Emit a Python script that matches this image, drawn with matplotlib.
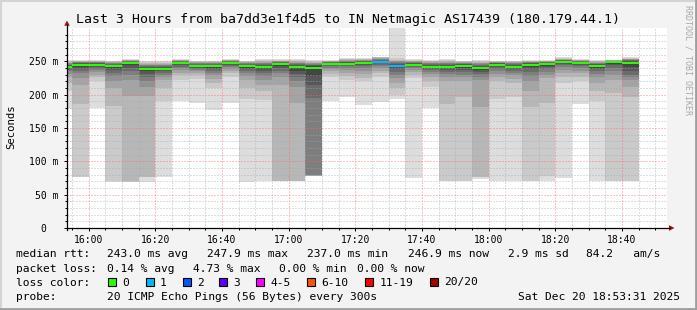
import matplotlib
matplotlib.use("Agg")
import matplotlib.pyplot as plt
from matplotlib.patches import Rectangle, Polygon
from matplotlib.lines import Line2D
import numpy as np

# ---------------- data ----------------
title = "Last 3 Hours from ba7dd3e1f4d5 to IN Netmagic AS17439 (180.179.44.1)"
x_start = "15:53:31"
x_end = "18:53:31"
x_tick_labels = ["16:00", "16:20", "16:40", "17:00", "17:20", "17:40", "18:00", "18:20", "18:40"]
y_ticks = [0, 50, 100, 150, 200, 250]
y_tick_labels = ["0  ", "50 m", "100 m", "150 m", "200 m", "250 m"]

step_end = ["15:55", "16:00", "16:05", "16:10", "16:15", "16:20", "16:25", "16:30", "16:35",
            "16:40", "16:45", "16:50", "16:55", "17:00", "17:05", "17:10", "17:15", "17:20",
            "17:25", "17:30", "17:35", "17:40", "17:45", "17:50", "17:55", "18:00", "18:05",
            "18:10", "18:15", "18:20", "18:25", "18:30", "18:35", "18:40", "18:45"]

# 20 sorted ping RTTs (ms) per 5-minute step
pings_by_step = [
    [178, 205, 218, 226, 231, 235, 237, 239, 240, 241, 242, 243, 244, 245, 246, 247, 248, 249, 250, 252],
    [76, 77, 186, 215, 225, 232, 236, 239, 242, 244.5, 245.5, 246.5, 247, 248, 248.5, 249, 249.5, 250, 251, 252],
    [180, 220, 226, 230, 234, 237, 239, 241, 243, 244.5, 245.5, 246.5, 247, 248, 248.5, 249, 249.5, 250, 251, 252],
    [69, 70, 183, 210, 220, 228, 233, 237, 240, 242, 243.2, 244, 245, 246, 247, 248, 249, 249.5, 250, 251],
    [69, 69.5, 70, 198, 222, 230, 236, 240, 244, 247, 248.2, 249, 249.5, 250, 250.5, 251, 251.5, 252, 252.5, 253],
    [69, 76, 76.5, 198, 212, 220, 226, 231, 235, 238, 239.2, 240.5, 242, 243, 244, 245, 246, 247.5, 249, 251],
    [76, 190, 210, 222, 226, 230, 233, 235, 237, 238, 239.2, 240.5, 242, 243, 244, 245, 246, 247, 248.5, 250],
    [191, 222, 229, 233, 237, 240, 242, 244, 246, 247, 248.2, 249, 249.5, 250, 250.5, 251, 251.5, 252, 252.5, 253],
    [187, 224, 229, 232, 235, 237, 239, 240.5, 241.5, 242, 243.2, 244, 245, 246, 247, 248, 248.5, 249, 250, 251],
    [177, 210, 218, 224, 229, 233, 236, 238.5, 240.5, 242, 243.2, 244, 245, 246, 247, 248, 248.5, 249, 250, 251],
    [187, 227, 232, 236, 239, 241, 243, 245, 246, 247, 248.2, 249, 249.5, 250, 250.5, 251, 251.5, 252, 252.5, 253],
    [69, 194, 210, 222, 228, 232, 235, 238, 240.5, 242, 243.2, 244, 245, 246, 247, 248, 248.5, 249, 250, 251],
    [70, 192, 205, 215, 222, 228, 232, 236, 239, 241, 242.2, 243.5, 245, 246, 247, 248, 249, 250, 251.5, 253],
    [70, 70.5, 71, 215, 226, 232, 236, 240, 243, 245.5, 246.5, 247.5, 248, 249, 249.5, 250, 250.5, 251, 252, 253],
    [70, 70.5, 71, 187, 212, 220, 226, 231, 236, 241, 242.2, 243.5, 245, 246, 247, 248, 249, 250, 251.5, 253],
    [78, 78.2, 78.4, 78.6, 78.8, 79, 195, 215, 228, 239, 241, 242.5, 244, 245, 246, 247, 248, 249, 250.5, 252],
    [191, 226, 231, 235, 238, 240.5, 242.5, 244, 245, 245.5, 246.5, 247.5, 248, 248.5, 249, 249.5, 250, 250.5, 251, 252],
    [197, 222, 228, 233, 237, 240, 242.5, 244, 245, 245.5, 246.5, 247.5, 248.5, 249.5, 250, 251, 252, 253, 254, 255],
    [185, 220, 225, 231, 236, 240, 243, 245, 246.5, 247, 248.2, 249, 250, 250.5, 251, 251.5, 252, 253, 254, 255],
    [189, 227, 232, 236, 240, 243, 245, 247, 248, 248.5, 249.5, 250.5, 251, 252, 253, 254, 255, 256, 256.5, 257],
    [193, 200, 210, 218, 225, 230, 234, 238, 241, 242.5, 243.5, 245, 246.5, 248, 249, 250, 251, 252, 254.5, 320],
    [75, 225, 230, 234, 237, 239.5, 241.5, 243, 244, 244.5, 245, 246, 247, 248, 248.5, 249, 250, 251, 252, 253],
    [180, 212, 220, 226, 231, 234, 237, 239, 240.5, 241, 242.2, 243.5, 245, 246, 247, 248, 249, 250, 251, 252],
    [70, 70.5, 186, 220, 227, 231, 234, 237, 239.5, 241, 242.2, 243.5, 245, 246, 247, 248, 249, 250, 251.5, 253],
    [70, 70.5, 197, 220, 226, 230, 234, 237, 240, 242.5, 243.5, 244.5, 245.5, 246.5, 247, 248, 248.5, 249, 250, 251],
    [73, 76, 76.5, 181, 222, 227, 231, 234, 237, 239.5, 240.5, 242, 243.5, 245, 246, 247, 248, 249, 250.5, 252],
    [70, 194, 220, 226, 231, 235, 238, 241, 243, 244.5, 245, 246, 247, 247.5, 248, 248.5, 249, 249.5, 250, 251],
    [70, 197, 217, 224, 229, 233, 236, 238.5, 240.5, 241, 242.2, 243.5, 245, 246, 247, 248, 248.5, 249, 250, 251],
    [70, 70.5, 181, 205, 220, 228, 234, 238, 241.5, 244, 245.4, 246.5, 247.5, 248, 248.5, 249, 249.5, 250, 251, 252],
    [70, 78, 187, 225, 230, 234, 238, 241, 243.5, 245.5, 246.5, 247.5, 248, 248.5, 249, 249.5, 250, 250.5, 251, 252],
    [75, 217, 226, 232, 237, 241, 244, 246, 247.5, 248.5, 249.5, 250.5, 251, 251.5, 252, 252.5, 253, 254, 255, 256],
    [186, 220, 227, 232, 236, 240, 243, 245, 246.5, 247, 248.2, 249, 249.5, 250, 250.5, 251, 251.5, 252, 252.5, 253],
    [70, 190, 205, 218, 226, 231, 235, 238, 240.5, 242.5, 243.5, 244.5, 245.5, 246.5, 247.5, 248, 249, 250, 251, 252],
    [70, 70.5, 202, 222, 230, 236, 240, 244, 246.5, 248.5, 249.5, 249.8, 250, 250.3, 250.6, 251, 251.3, 251.6, 251.8, 252],
    [70, 70.5, 197, 212, 222, 226, 230, 236, 242, 246.5, 248.7, 250, 251, 252, 252.5, 253, 253.5, 254, 255, 256],
]

median_rtt = [241.6, 245, 245, 242.6, 247.6, 238.6, 238.6, 247.6, 242.6, 242.6, 247.6, 242.6,
              241.6, 246, 241.6, 240, 246, 246, 247.6, 249, 243, 244.7, 241.6, 241.6,
              243, 240, 244.7, 241.6, 244.7, 246, 249, 247.6, 243, 249, 247.6]

loss_count = [0, 0, 0, 0, 0, 0, 0, 0, 0, 0, 0, 0, 0, 0, 0, 0, 0, 0, 0, 1, 1, 0, 0, 0,
              0, 0, 0, 0, 0, 0, 0, 0, 0, 0, 0]

loss_labels = ["0", "1", "2", "3", "4-5", "6-10", "11-19", "20/20"]
loss_colors = ["#26ff00", "#00b8ff", "#0059ff", "#5e00ff", "#ff00ff", "#ff5500", "#ff0000", "#a00000"]
loss_lower = [0, 1, 2, 3, 4, 6, 11, 20]

rtt_stats = ["243.0 ms avg", "247.9 ms max", "237.0 ms min", "246.9 ms now", "2.9 ms sd", "84.2   am/s"]
loss_stats = ["0.14 % avg", "4.73 % max", "0.00 % min", "0.00 % now"]
probe_text = "20 ICMP Echo Pings (56 Bytes) every 300s"
stamp_text = "Sat Dec 20 18:53:31 2025"
watermark = "RRDTOOL / TOBI OETIKER"
y_max = 300
step_min = 5
# --------------------------------------

MONO = "DejaVu Sans Mono"
plt.rcParams["font.family"] = MONO

W, H = 697, 310
fig = plt.figure(figsize=(W / 100, H / 100), dpi=100)
fig.patch.set_facecolor("#f3f3f3")


def to_min(s):
    parts = [int(v) for v in s.split(":")]
    while len(parts) < 3:
        parts.append(0)
    return parts[0] * 60 + parts[1] + parts[2] / 60.0 - 16 * 60


# plot canvas (pixel layout of the original)
L, R, T, B = 67, 667, 28, 228
ax = fig.add_axes([L / W, (H - B) / H, (R - L) / W, (B - T) / H])
ax.set_facecolor("white")
ax.set_xlim(to_min(x_start), to_min(x_end))
ax.set_ylim(0, y_max)
for s in ax.spines.values():
    s.set_visible(False)

pings = np.clip(np.array(pings_by_step, dtype=float), None, y_max)
ends = np.array([to_min(t) for t in step_end])
lefts = ends - step_min
n = pings.shape[1]
half = n // 2

# smoke bands
for ii in range(1, half + 1):
    g = int(190 / half * (half - ii)) + 50
    col = "#%02x%02x%02x" % (g, g, g)
    lo = pings[:, ii - 1]
    hi = pings[:, n - ii]
    ax.bar(lefts, hi - lo, bottom=lo, width=step_min, align="edge", color=col,
           linewidth=0, antialiased=False, zorder=2)

# grid (drawn above smoke, like rrdtool)
minor_y = [v for v in range(10, y_max, 10) if v % 50 != 0]
major_y = [v for v in range(50, y_max, 50)]
xmin, xmax = ax.get_xlim()
minor_x = [v for v in np.arange(-5, xmax, 5) if v % 20 != 0]
major_x = list(range(0, int(xmax), 20))
for v in minor_y:
    ax.axhline(v, color="#a8a8a8", lw=0.72, ls=(0, (1, 2)), alpha=0.75, zorder=3)
for v in minor_x:
    ax.axvline(v, color="#a8a8a8", lw=0.72, ls=(0, (1, 2)), alpha=0.75, zorder=3)
for v in major_y:
    ax.axhline(v, color="#ff6666", lw=0.72, ls=(0, (1, 2)), alpha=0.8, zorder=3)
for v in major_x:
    ax.axvline(v, color="#ff6666", lw=0.72, ls=(0, (1, 2)), alpha=0.8, zorder=3)


def loss_col(c):
    idx = 0
    for k, lo in enumerate(loss_lower):
        if c >= lo:
            idx = k
    return loss_colors[idx]


med = np.array(median_rtt)
ax.bar(lefts, 3.0, bottom=med - 1.5, width=step_min, align="edge",
       color=[loss_col(c) for c in loss_count], linewidth=0, antialiased=False, zorder=5)

# ticks
ax.set_xticks(major_x)
ax.set_xticklabels(x_tick_labels)
ax.set_xticks(minor_x, minor=True)
ax.set_yticks(y_ticks)
ax.set_yticklabels(y_tick_labels)
ax.set_yticks([v for v in range(10, y_max, 10)], minor=True)
ax.tick_params(axis="both", which="major", length=2.2, width=0.72, color="#000000",
               labelsize=7, labelcolor="#000000")
ax.tick_params(axis="both", which="minor", length=1.4, width=0.72, color="#000000")
ax.tick_params(axis="y", which="major", pad=4)
ax.tick_params(axis="x", which="major", pad=2.5)

# overlay for frame, axes arrows, texts
ov = fig.add_axes([0, 0, 1, 1], zorder=10)
ov.set_xlim(0, W)
ov.set_ylim(H, 0)
ov.axis("off")
ov.patch.set_alpha(0)

# 3D frame
ov.add_line(Line2D([0, W], [0.8, 0.8], color="#d4d4d4", lw=1.5))
ov.add_line(Line2D([0.8, 0.8], [0, H], color="#d4d4d4", lw=1.5))
ov.add_line(Line2D([0, W], [H - 1.2, H - 1.2], color="#9e9e9e", lw=2.0))
ov.add_line(Line2D([W - 1.2, W - 1.2], [0, H], color="#9e9e9e", lw=2.0))

# axis lines with arrows
ov.add_line(Line2D([L - 0.5, R + 3], [B, B], color="#000000", lw=0.9))
ov.add_line(Line2D([L, L], [B + 2, T - 3], color="#000000", lw=0.9))
ov.add_patch(Polygon([[R + 2, B - 2.8], [R + 2, B + 2.8], [R + 7.5, B]], closed=True,
                     color="#a01010", lw=0))
ov.add_patch(Polygon([[L - 2.8, T - 2.3], [L + 2.8, T - 2.3], [L, T - 7.5]], closed=True,
                     color="#a01010", lw=0))

# title, axis label, watermark
ov.text(347.5, 19, title, ha="center", va="center", fontsize=9.5, color="#000000")
ov.text(11, 127, "Seconds", ha="center", va="center", rotation=90, fontsize=7.7, color="#000000")
ov.text(688, 60, watermark, ha="center", va="center", rotation=270, fontsize=6,
        color="#a8a8a8")

# legend block
fs = 8.1
row1, row2, row3, row4 = 254, 268.5, 282.5, 296.5
ov.text(16, row1, "median rtt:", ha="left", va="center", fontsize=fs)
for xpos, s in zip([107.3, 207.3, 306.7, 407.7, 507.7, 586.3], rtt_stats):
    ov.text(xpos, row1, s, ha="left", va="center", fontsize=fs)
ov.text(16, row2, "packet loss:", ha="left", va="center", fontsize=fs)
for xpos, s in zip([107.3, 192.7, 279.3, 357.0], loss_stats):
    ov.text(xpos, row2, s, ha="left", va="center", fontsize=fs)
ov.text(16, row3, "loss color:", ha="left", va="center", fontsize=fs)
sq_x = [108.3, 145.7, 182.7, 219.3, 256.0, 306.7, 365.3, 430.0]
for xpos, lab, c in zip(sq_x, loss_labels, loss_colors):
    ov.add_patch(Rectangle((xpos, row3 - 4.5), 8, 8, facecolor=c, edgecolor="#000000", lw=0.8))
    ov.text(xpos + 14.3, row3, lab, ha="left", va="center", fontsize=fs)
ov.text(16, row4, "probe:", ha="left", va="center", fontsize=fs)
ov.text(107.3, row4, probe_text, ha="left", va="center", fontsize=fs)
ov.text(680, row4, stamp_text, ha="right", va="center", fontsize=fs)

fig.savefig("out.png", dpi=100, facecolor=fig.get_facecolor())
